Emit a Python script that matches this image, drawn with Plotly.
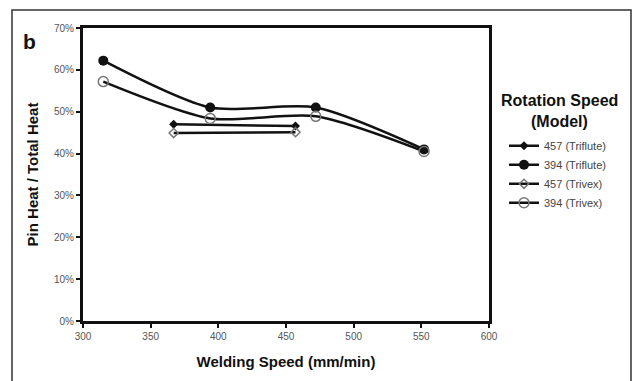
import plotly.graph_objects as go

# Data
speed_394 = [315, 394, 472, 552]
speed_457 = [367, 457]
triflute_394 = [0.622, 0.510, 0.510, 0.410]
trivex_394 = [0.572, 0.484, 0.489, 0.405]
triflute_457 = [0.470, 0.466]
trivex_457 = [0.449, 0.451]
x_ticks = [300, 350, 400, 450, 500, 550, 600]
y_ticks = [0, 0.1, 0.2, 0.3, 0.4, 0.5, 0.6, 0.7]

FONT = "Liberation Sans, Arial, sans-serif"
L, R, T, B = 83, 489, 28, 323
W, H = 632, 381

def px(xp):
    return (xp - L) / (R - L)

def py(yp):
    return (B - yp) / (B - T)

fig = go.Figure()
fig.add_trace(go.Scatter(
    x=speed_457, y=triflute_457, name="457 (Triflute)", mode="lines+markers",
    line=dict(color="#111111", width=2.5, shape="spline"),
    marker=dict(symbol="diamond", size=7, color="#111111")))
fig.add_trace(go.Scatter(
    x=speed_394, y=triflute_394, name="394 (Triflute)", mode="lines+markers",
    line=dict(color="#111111", width=2.5, shape="spline", smoothing=0.75),
    marker=dict(symbol="circle", size=10, color="#111111")))
fig.add_trace(go.Scatter(
    x=speed_457, y=trivex_457, name="457 (Trivex)", mode="lines+markers",
    line=dict(color="#111111", width=2.5, shape="spline"),
    marker=dict(symbol="diamond-open", size=7, color="#777777", line=dict(width=1.5))))
fig.add_trace(go.Scatter(
    x=speed_394, y=trivex_394, name="394 (Trivex)", mode="lines+markers",
    line=dict(color="#111111", width=2.5, shape="spline", smoothing=0.75),
    marker=dict(symbol="circle-open", size=10, color="#777777", line=dict(width=1.5))))

fig.update_layout(
    width=W, height=H,
    margin=dict(l=L, r=W - R, t=T, b=H - B, pad=0),
    paper_bgcolor="white", plot_bgcolor="white",
    font=dict(family=FONT, color="#222222"),
    showlegend=True,
    legend=dict(x=px(504), y=py(132), xanchor="left", yanchor="top",
                font=dict(size=11, color="#444444"), bgcolor="rgba(0,0,0,0)",
                tracegroupgap=0, itemwidth=30),
    xaxis=dict(range=[300, 600], tickvals=x_ticks, ticktext=[str(v) for v in x_ticks],
               showgrid=False, zeroline=False, showline=True, linecolor="#111111",
               linewidth=3, mirror=True, ticks="outside", ticklen=4, tickwidth=2,
               tickcolor="#111111", tickfont=dict(size=10, color="#555555"),
               title=dict(text="<b>Welding Speed (mm/min)</b>", font=dict(size=15, color="#111111"),
                          standoff=16)),
    yaxis=dict(range=[0, 0.7], tickvals=y_ticks, tickformat=".0%",
               showgrid=False, zeroline=False, showline=True, linecolor="#111111",
               linewidth=3, mirror=True, ticks="outside", ticklen=4, tickwidth=2,
               tickcolor="#111111", tickfont=dict(size=10, color="#555555"),
               title=dict(text="<b>Pin Heat / Total Heat</b>", font=dict(size=15, color="#111111"),
                          standoff=12)),
)

fig.add_shape(type="rect", xref="paper", yref="paper",
              x0=px(12), x1=px(631), y0=py(395), y1=py(10),
              line=dict(color="#333333", width=1.5), layer="below")

fig.add_annotation(text="<b>b</b>", xref="paper", yref="paper", x=px(21), y=py(42),
                   xanchor="left", yanchor="middle", showarrow=False,
                   font=dict(size=21, color="#111111"))
fig.add_annotation(text="<b>Rotation Speed</b>", xref="paper", yref="paper",
                   x=px(559), y=py(101), xanchor="center", yanchor="middle", showarrow=False,
                   font=dict(size=16, color="#111111"))
fig.add_annotation(text="<b>(Model)</b>", xref="paper", yref="paper",
                   x=px(559), y=py(122), xanchor="center", yanchor="middle", showarrow=False,
                   font=dict(size=16, color="#111111"))

fig.write_html("out.html")
